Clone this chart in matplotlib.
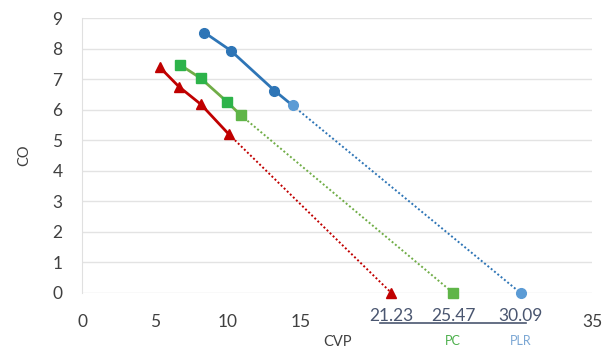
import matplotlib.pyplot as plt
import matplotlib.transforms as mtransforms

plt.rcParams['font.family'] = ['Lato', 'DejaVu Sans']

# measured points
plr_x = [8.4, 10.2, 13.2, 14.45]
plr_y = [8.53, 7.94, 6.63, 6.14]
pc_x = [6.7, 8.15, 9.93, 10.9]
pc_y = [7.48, 7.03, 6.27, 5.82]
ctl_x = [5.34, 6.64, 8.15, 10.07]
ctl_y = [7.39, 6.76, 6.18, 5.2]

# x-intercepts
intercepts = [21.23, 25.47, 30.09]
names = ['', 'PC', 'PLR']

x_ticks = [0, 5, 10, 15, 35]
y_ticks = list(range(10))

fig = plt.figure(figsize=(6.03, 3.56), dpi=100)
ax = fig.add_axes([0.136, 0.177, 0.846, 0.772])

series = [
    (ctl_x, ctl_y, intercepts[0], '#C00000', '#C00000', '^', '#C00000'),
    (pc_x, pc_y, intercepts[1], '#70AD47', '#2DB34A', 's', '#5FB548'),
    (plr_x, plr_y, intercepts[2], '#2E75B6', '#2E75B6', 'o', '#5B9BD5'),
]
for xs, ys, x0, lc, mc, mk, endc in series:
    ax.plot([xs[-1], x0], [ys[-1], 0], color=lc, lw=1.4, ls=(0, (1, 1.2)), zorder=2)
    ax.plot(xs, ys, color=lc, lw=2, zorder=3)
    ax.plot(xs[:-1], ys[:-1], ls='none', marker=mk, color=mc, ms=7, zorder=4)
    ax.plot(xs[-1:], ys[-1:], ls='none', marker=mk, color=endc, ms=7, zorder=4)
    ax.plot([x0], [0], ls='none', marker=mk, color=endc, ms=7, zorder=4, clip_on=False)

ax.set_xlim(0, 35)
ax.set_ylim(0, 9)
ax.set_xticks(x_ticks)
ax.set_yticks(y_ticks)
ax.tick_params(length=0, labelsize=12.5, labelcolor='#404040')
ax.tick_params(axis='y', pad=14)
ax.tick_params(axis='x', pad=15)
ax.grid(axis='y', color='#E3E3E3', lw=1)
ax.set_axisbelow(True)
for s in ['top', 'right', 'bottom']:
    ax.spines[s].set_visible(False)
ax.spines['left'].set_color('#E0E0E0')

ax.set_ylabel('CO', fontsize=10.5, color='#404040', labelpad=15)
ax.set_xlabel('CVP', fontsize=10.5, color='#404040', labelpad=4)

trans = mtransforms.blended_transform_factory(ax.transData, ax.transAxes)
for x0, nm, c in zip(intercepts, names, ['#C00000', '#4CB04C', '#7BA7D4']):
    ax.text(x0, -0.085, f'{x0:.2f}', transform=trans, ha='center', va='center',
            fontsize=12.5, color='#4A5670')
    if nm:
        ax.text(x0, -0.175, nm, transform=trans, ha='center', va='center',
                fontsize=9, color=c)
ax.plot([intercepts[0] - 0.8, intercepts[-1] + 0.4], [-0.11, -0.11], transform=trans,
        color='#4A5670', lw=1.2, clip_on=False)

fig.savefig('out.png', dpi=100)
